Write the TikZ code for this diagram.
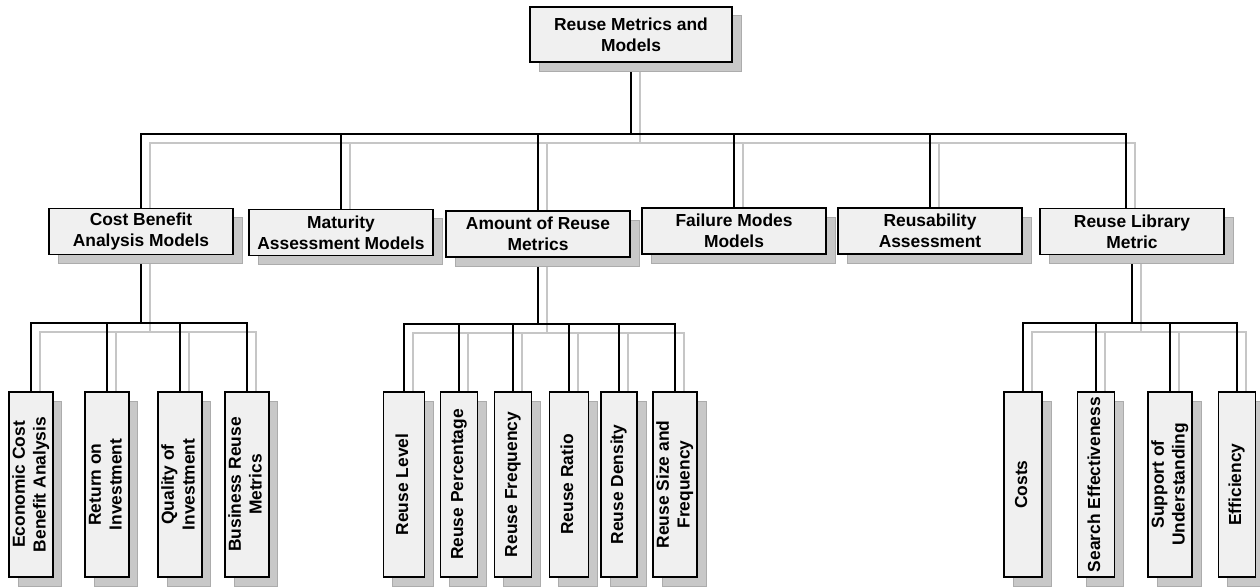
\documentclass[tikz,border=0pt]{standalone}
\usepackage{fontspec}
\setmainfont{Liberation Sans}
\usepackage{graphicx}
\usetikzlibrary{shadows}
\definecolor{boxfill}{HTML}{F0F0F0}
\definecolor{shfill}{HTML}{C8C8C8}
\definecolor{shedge}{HTML}{ACACAC}
\definecolor{shline}{HTML}{C6C6C6}
\pgfdeclarelayer{shl}
\pgfdeclarelayer{conl}
\pgfsetlayers{shl,conl,main}
\tikzset{
  base/.style={draw=black, line width=1.9pt, fill=boxfill, inner sep=1pt, align=center,
    font=\fontsize{17.4}{20.8}\selectfont\bfseries,
    drop shadow={shadow xshift=9pt, shadow yshift=-9pt, fill=shfill, draw=shedge, line width=1pt, opacity=1}},
  topbox/.style={base, minimum width=202pt, minimum height=55pt},
  midbox/.style={base, minimum width=184pt, minimum height=46pt},
  leafbox/.style={base, minimum width=40pt, minimum height=185pt},
  conn/.style={draw=black, line width=1.9pt},
  shconn/.style={draw=shline, line width=1.6pt},
}
\newcommand{\vt}[1]{\rotatebox{90}{\begin{tabular}{@{}c@{}}#1\end{tabular}}}
\newcommand{\connpaths}[1]{%
  \draw[#1] (root.south) -- (bus0);
  \draw[#1] (cba.north) |- (bus0) -| (libtop);
  \foreach \c in {mat,amt,fail,reus} {\draw[#1] (\c.north) -- (\c.north |- bus0);}
  \draw[#1] (cba.south) -- (bus1);
  \draw[#1] (l11.north) |- (bus1) -| (l14.north);
  \foreach \c in {l12,l13} {\draw[#1] (\c.north) -- (\c.north |- bus1);}
  \draw[#1] (amt.south) -- (bus2);
  \draw[#1] (l21.north) |- (bus2) -| (l26.north);
  \foreach \c in {l22,l23,l24,l25} {\draw[#1] (\c.north) -- (\c.north |- bus2);}
  \draw[#1] (lib.south) -- (bus3);
  \draw[#1] (l31.north) |- (bus3) -| (l34.north);
  \foreach \c in {l32,l33} {\draw[#1] (\c.north) -- (\c.north |- bus3);}
}
\begin{document}
\begin{tikzpicture}[x=1pt,y=-1pt]
\useasboundingbox (0,0) rectangle (1260,586);
\coordinate (bus0) at (631,134);
\coordinate (bus1) at (141,323);
\coordinate (bus2) at (538,324);
\coordinate (bus3) at (1132,323);
\coordinate (libtop) at (1126,208);

% root
\node[topbox] (root) at (631,34.5) {Reuse Metrics and\\Models};
% level 2
\node[midbox] (cba)  at (141,231.5) {Cost Benefit\\Analysis Models};
\node[midbox] (mat)  at (341,232.5) {Maturity\\Assessment Models};
\node[midbox] (amt)  at (538,234)   {Amount of Reuse\\Metrics};
\node[midbox] (fail) at (734,231)   {Failure Modes\\Models};
\node[midbox] (reus) at (930,231)   {Reusability\\Assessment};
\node[midbox] (lib)  at (1132,231.5) {Reuse Library\\Metric};
% leaves of cost benefit
\node[leafbox] (l11) at (31,484.5)  {\vt{Economic Cost\\Benefit Analysis}};
\node[leafbox] (l12) at (107,484.5) {\vt{Return on\\Investment}};
\node[leafbox, minimum width=38pt] (l13) at (180,484.5) {\vt{Quality of\\Investment}};
\node[leafbox, minimum width=41pt] (l14) at (247,484.5) {\vt{Business Reuse\\Metrics}};
% leaves of amount
\node[leafbox, minimum width=41pt] (l21) at (404,484.5) {\vt{Reuse Level}};
\node[leafbox, minimum width=37pt] (l22) at (459,484.5) {\vt{Reuse Percentage}};
\node[leafbox, minimum width=37pt] (l23) at (513,484.5) {\vt{Reuse Frequency}};
\node[leafbox, minimum width=39pt] (l24) at (569,484.5) {\vt{Reuse Ratio}};
\node[leafbox, minimum width=36pt] (l25) at (619,484.5) {\vt{Reuse Density}};
\node[leafbox, minimum width=44pt] (l26) at (675,484.5) {\vt{Reuse Size and\\Frequency}};
% leaves of library
\node[leafbox, minimum width=38pt] (l31) at (1023,484.5) {\vt{Costs}};
\node[leafbox, minimum width=37pt] (l32) at (1096,484.5) {\vt{Search Effectiveness}};
\node[leafbox, minimum width=44pt] (l33) at (1170,484.5) {\vt{Support of\\Understanding}};
\node[leafbox, minimum width=37pt] (l34) at (1237,484.5) {\vt{Efficiency}};

\begin{pgfonlayer}{shl}
\begin{scope}[transform canvas={xshift=9pt,yshift=-9pt}]
\connpaths{shconn}
\end{scope}
\end{pgfonlayer}
\begin{pgfonlayer}{conl}
\connpaths{conn}
\end{pgfonlayer}
\end{tikzpicture}
\end{document}
